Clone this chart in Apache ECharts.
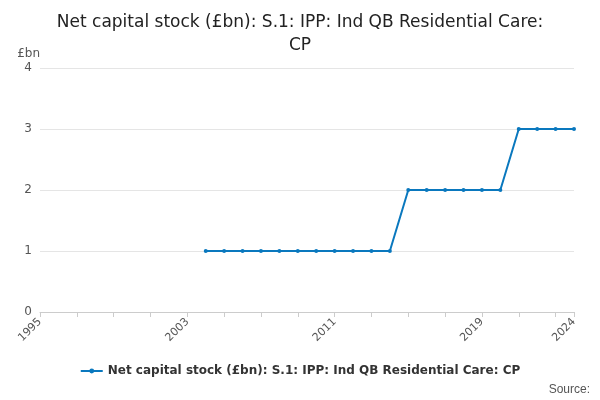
<!DOCTYPE html>
<html><head><meta charset="utf-8">
<script src="https://cdn.jsdelivr.net/npm/echarts@6/dist/echarts.min.js"></script>
<style>html,body{margin:0;padding:0}#c{width:600px;height:400px}</style>
</head><body><div id="c"></div>
<script>
const years = [];
for (let y = 1995; y <= 2024; y++) years.push(String(y));
const values = [null,null,null,null,null,null,null,null,null,
  1,1,1,1,1,1,1,1,1,1,1,
  2,2,2,2,2,2,
  3,3,3,3];
const shownLabels = ['1995','2003','2011','2019','2024'];
const seriesName = 'Net capital stock (£bn): S.1: IPP: Ind QB Residential Care: CP';
const chart = echarts.init(document.getElementById('c'));
chart.setOption({
  animation:false,
  textStyle:{fontFamily:'DejaVu Sans'},
  title:{text:'Net capital stock (£bn): S.1: IPP: Ind QB Residential Care:\nCP',left:'center',top:6,
    textStyle:{fontSize:17,fontWeight:'normal',color:'#222',lineHeight:23}},
  grid:{left:40,right:26,top:68,bottom:88},
  xAxis:{type:'category',data:years,boundaryGap:false,
    axisLine:{lineStyle:{color:'#ccc'}},
    axisTick:{interval:(i)=>i%2===0||i===29,lineStyle:{color:'#ccc'}},
    axisLabel:{interval:0,rotate:45,color:'#555',fontSize:11,
      formatter:(v)=>shownLabels.includes(v)?v:''}},
  yAxis:{type:'value',min:0,max:4,interval:1,name:'£bn',nameLocation:'end',
    nameGap:8,nameTextStyle:{color:'#555',align:'right'},
    axisLabel:{color:'#555'},splitLine:{lineStyle:{color:'#e5e5e5'}}},
  legend:{bottom:18,left:'center',data:[seriesName],itemWidth:22,itemHeight:6,
    textStyle:{fontWeight:'bold',color:'#333',fontSize:12}},
  graphic:[{type:'text',right:10,bottom:4,style:{text:'Source:',fill:'#555',fontSize:12}}],
  series:[{name:seriesName,type:'line',data:values,color:'#0a78be',
    symbol:'circle',symbolSize:4,lineStyle:{width:2}}]
});
</script></body></html>
